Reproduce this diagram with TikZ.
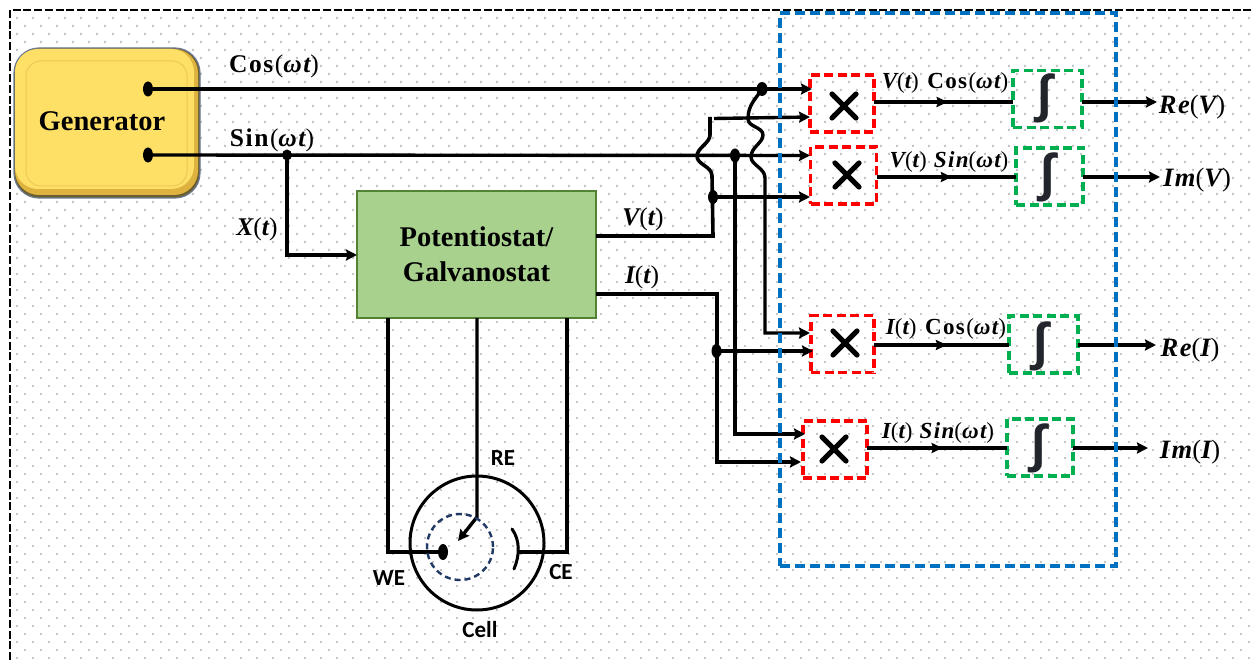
\documentclass[tikz,border=0pt]{standalone}
\usepackage{fontspec}
\setmainfont{Liberation Serif}
\newfontfamily\carlfont{Carlito}
\newfontfamily\symfont{Liberation Sans}
\newfontfamily\labf[LetterSpace=6]{Liberation Serif}
\usetikzlibrary{arrows.meta,decorations.markings,calc}
\definecolor{dotc}{HTML}{C4C4C4}
\definecolor{redb}{HTML}{FF0000}
\definecolor{greenb}{HTML}{00B050}
\definecolor{blueb}{HTML}{0070C0}
\definecolor{navyb}{HTML}{1F3864}
\definecolor{intc}{HTML}{22262C}
\definecolor{genmain}{HTML}{FFE066}
\definecolor{genedge}{HTML}{6B5F30}
\definecolor{genmid}{HTML}{DDB23E}
\definecolor{genline}{HTML}{ECC854}
\definecolor{genborder}{HTML}{6B7A90}
\newcommand{\bi}[1]{{\bfseries\itshape #1}}
\newcommand{\lp}{{\mdseries\upshape(}}
\newcommand{\rp}{{\mdseries\upshape)}}
\newcommand{\wt}{\lp\bi{ωt}\rp}
\tikzset{
  tip/.style={-{Stealth[length=11pt,width=11pt,inset=1.5pt]}},
  wire/.style={line width=3.4pt,black},
  thinwire/.style={line width=3.1pt,black},
  redbox/.style={draw=redb,line width=3.4pt,dash pattern=on 9pt off 4.5pt,minimum width=#1,minimum height=57pt,inner sep=0pt,outer sep=0pt},
  greenbox/.style={draw=greenb,line width=3.2pt,dash pattern=on 9pt off 4.5pt,minimum width=#1,minimum height=57pt,inner sep=0pt,outer sep=0pt},
  xstroke/.style={line width=5.2pt,line cap=round,black},
  intmark/.style={font=\symfont\bfseries\fontsize{52}{52}\selectfont,text=intc,inner sep=0pt},
  lab/.style={font=\labf\fontsize{25.5}{27}\selectfont,inner sep=0pt},
  prodlab/.style={font=\labf\fontsize{23}{24}\selectfont,inner sep=0pt},
  outlab/.style={font=\labf\fontsize{26.5}{27}\selectfont,inner sep=0pt},
  cellab/.style={font=\carlfont\bfseries\fontsize{23}{25}\selectfont,inner sep=0pt},
  midarrow/.style={postaction={decorate},decoration={markings,mark=at position #1 with {\arrow{Stealth[length=11pt,width=10pt,inset=1.5pt]}}}},
}
\begin{document}
\begin{tikzpicture}[x=1pt,y=-1pt]
\useasboundingbox (0,0) rectangle (1252,660);
\fill[white] (0,0) rectangle (1252,660);
% dotted background
\fill[dotc] foreach \r in {0,...,40} {
  foreach \c in {0,...,77} {
    (16+\c*16,17+\r*16) rectangle ++(1.8,1.8)
    (24+\c*16,25+\r*16) rectangle ++(1.8,1.8)
  }
};
% outer frame
\coordinate (frameA) at (10,660);
\coordinate (frameB) at (10,10);
\coordinate (frameC) at (1252,10);
\draw[line width=2.6pt,dash pattern=on 8pt off 2.7pt] (frameA) -- (frameB) -- (frameC);
% generator
\filldraw[rounded corners=25pt,draw=genborder,line width=1.2pt,fill=genedge] (14,48) rectangle (200,198);
\fill[rounded corners=24pt,fill=genmid] (15,49) rectangle (198,195);
\fill[rounded corners=23pt,fill=genmain] (15,49) rectangle (194,189);
\node[draw=genline,line width=1pt,rounded corners=15pt,minimum width=161pt,minimum height=125pt,inner sep=0pt,outer sep=0pt] (generator) at (106.5,123.5) {};
\node[font=\bfseries\fontsize{28.5}{30}\selectfont,inner sep=0pt] (gentext) at (102,121) {Generator};
% potentiostat
\node[draw={rgb,255:red,84;green,130;blue,53},line width=1.2pt,fill={rgb,255:red,169;green,209;blue,142},minimum width=239pt,minimum height=127pt,inner sep=0pt,outer sep=0pt,align=center,font=\bfseries\fontsize{28.5}{35}\selectfont] (pot) at (476.5,254.5) {\raisebox{14pt}{\parbox{200pt}{\centering Potentiostat/\\Galvanostat}}};
% red boxes
\node[redbox=64pt] (r1) at (842,103.5) {};
\node[redbox=66pt] (r2) at (843.5,175.5) {};
\node[redbox=63pt] (r3) at (842.5,344) {};
\node[redbox=64pt] (r4) at (835,449.5) {};
% green boxes
\node[greenbox=69pt] (g1) at (1047.5,99) {};
\node[greenbox=67pt] (g2) at (1049.5,176.5) {};
\node[greenbox=69pt] (g3) at (1043.5,344.5) {};
\node[greenbox=66pt] (g4) at (1040,447.5) {};
% multiply signs
\foreach \n/\x/\y in {a/844/106,b/847/175,c/845/343,d/834/449}{
  \draw[xstroke] (\x-12,\y-12) -- (\x+12,\y+12);
  \draw[xstroke] (\x-12,\y+12) -- (\x+12,\y-12);
}
% integral signs
\node[intmark] (i1) at (1045,98) {∫};
\node[intmark] (i2) at (1048,177) {∫};
\node[intmark] (i3) at (1041,346) {∫};
\node[intmark] (i4) at (1039,448) {∫};
% junction coordinates
\coordinate (gc) at (148,89);
\coordinate (gs) at (148,155);
\coordinate (jx) at (287,155);
\coordinate (jsv) at (735,155.5);
\coordinate (jcv) at (762,89);
\coordinate (jv) at (713,197);
\coordinate (ji) at (716.5,351);
\coordinate (vout) at (596,236);
\coordinate (iout) at (596,294);
% main wires
\draw[wire,tip] (gc) -- (812,89);
\draw[wire,tip] (gs) -- (810,155.5);
\draw[wire,tip] (jx) -- (287,255) -- (pot.west |- 0,255);
\draw[wire,tip] (jsv) -- (735,434) -- (805,434);
\draw[wire,tip] (jcv) .. controls (755,100) and (748,105) .. (748,119)
  .. controls (748,127) and (763,127) .. (763,135)
  .. controls (763,143) and (751,147) .. (751,157)
  .. controls (751,165) and (765,168) .. (765,178) -- (765,333) -- (810,333);
\draw[line width=3.6pt] (vout) -- (713,236) -- (712,176)
  .. controls (712,166) and (697,165) .. (697,156)
  .. controls (697,148) and (710,143) .. (710,135) -- (710,117);
\draw[wire,tip] (714,118.5) -- (810,117);
\draw[wire,tip] (jv) -- (810,197);
\draw[thinwire,tip] (iout) -- (717,294) -- (717,462) -- (801,462);
\draw[wire,tip] (ji) -- (813,351);
% dots on the wires
\foreach \p/\rx/\ry in {gc/5/7.5,gs/5/7.5,jx/5/5.5,jsv/5/7,jcv/5.5/7,jv/5/7,ji/5/7}{
  \fill (\p) ellipse [x radius=\rx pt,y radius=\ry pt];
}
% signal chains
\draw[thinwire,midarrow=0.53] (r1.east |- 0,102) -- (g1.west |- 0,102);
\draw[thinwire,midarrow=0.54] (r2.east |- 0,177) -- (g2.west |- 0,177);
\draw[thinwire,midarrow=0.54] (r3.east |- 0,345) -- (g3.west |- 0,345);
\draw[thinwire,midarrow=0.54] (r4.east |- 0,448) -- (g4.west |- 0,448);
\draw[thinwire,tip] (g1.east |- 0,102) -- (1157,102);
\draw[thinwire,tip] (g2.east |- 0,177) -- (1160,177);
\draw[thinwire,tip] (g3.east |- 0,345) -- (1156,345);
\draw[thinwire,tip] (g4.east |- 0,448) -- (1148,448);
% cell
\coordinate (cellc) at (477,543);
\coordinate (wetip) at (443,552);
\coordinate (cetip) at (518,552);
\draw[wire] (388,318) -- (388,552) -- (wetip);
\draw[wire] (567,318) -- (567,552) -- (cetip);
\draw[wire,tip] (477,318) -- (477,517) -- (458,541);
\draw[line width=3pt] (cellc) circle (67pt);
\draw[navyb,line width=2.4pt,dash pattern=on 6pt off 4pt] (460,547) circle (33pt);
\fill (wetip) ellipse [x radius=5pt,y radius=8pt];
\draw[line width=3pt,line cap=round] (512,529) .. controls (520,540) and (520,555) .. (514,569);
% blue box
\node[draw=blueb,line width=3.4pt,dash pattern=on 10pt off 5pt,minimum width=336pt,minimum height=553pt,inner sep=0pt,outer sep=0pt] (dsp) at (948,289.5) {};
% labels
\node[lab] (lcos) at (274,66) {\textbf{Cos}\wt};
\node[lab] (lsin) at (272,140) {\textbf{Sin}\wt};
\node[lab] (lx) at (257,229) {\bi{X}\lp\bi{t}\rp};
\node[lab] (lv) at (643,219) {\bi{V}\lp\bi{t}\rp};
\node[lab] (li) at (642,277) {\bi{I}\lp\bi{t}\rp};
\node[prodlab] (p1) at (945,83) {\bi{V}\lp\bi{t}\rp\ \textbf{Cos}\wt};
\node[prodlab] (p2) at (949,162) {\bi{V}\lp\bi{t}\rp\ \bi{Sin}\wt};
\node[prodlab] (p3) at (946,329) {\bi{I}\lp\bi{t}\rp\ \textbf{Cos}\wt};
\node[prodlab] (p4) at (938,433) {\bi{I}\lp\bi{t}\rp\ \bi{Sin}\wt};
\node[outlab] (o1) at (1192,107) {\bi{Re}\lp\bi{V}\rp};
\node[outlab] (o2) at (1197,180) {\bi{Im}\lp\bi{V}\rp};
\node[outlab] (o3) at (1190,350) {\bi{Re}\lp\bi{I}\rp};
\node[outlab] (o4) at (1190,452) {\bi{Im}\lp\bi{I}\rp};
\node[cellab] (lre) at (503,458) {RE};
\node[cellab] (lwe) at (389,578) {WE};
\node[cellab] (lce) at (561,572) {CE};
\node[cellab] (lcell) at (480,630) {Cell};
\end{tikzpicture}
\end{document}
